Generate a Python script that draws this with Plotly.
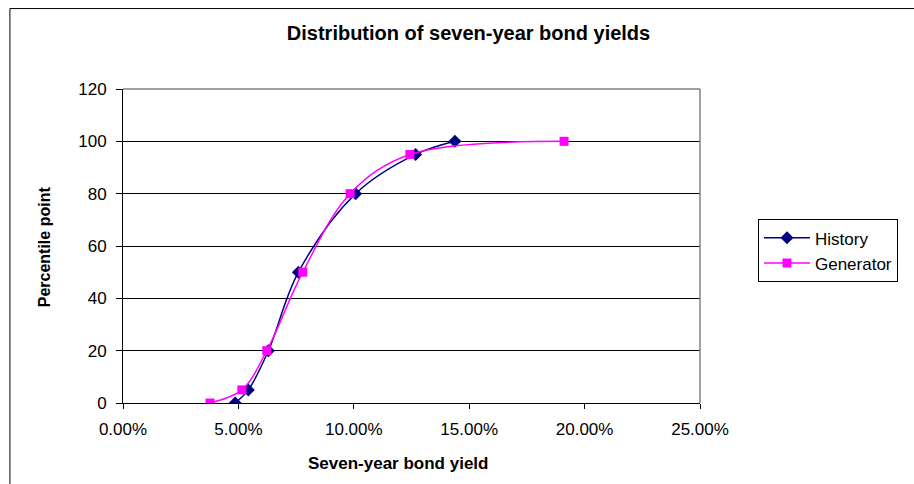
import plotly.graph_objects as go

# Percentile points of the seven-year bond yield distribution
percentiles = [0, 5, 20, 50, 80, 95, 100]
history_yield = [0.0486, 0.0543, 0.0630, 0.0760, 0.1008, 0.1268, 0.1438]
generator_yield = [0.0377, 0.0515, 0.0623, 0.0779, 0.0984, 0.1243, 0.1911]

x_ticks = [0.0, 0.05, 0.10, 0.15, 0.20, 0.25]
y_ticks = [0, 20, 40, 60, 80, 100, 120]

FONT = "Liberation Sans, Arial, sans-serif"

fig = go.Figure()
fig.add_trace(go.Scatter(
    x=history_yield, y=percentiles, name="History",
    mode="lines+markers",
    line=dict(color="#000080", width=1.5, shape="spline", smoothing=1),
    marker=dict(symbol="diamond", size=10, color="#000080"),
))
fig.add_trace(go.Scatter(
    x=generator_yield, y=percentiles, name="Generator",
    mode="lines+markers",
    line=dict(color="#FF00FF", width=1.5, shape="spline", smoothing=1),
    marker=dict(symbol="square", size=9, color="#FF00FF"),
))

fig.update_layout(
    width=914, height=484,
    margin=dict(l=123, r=214, t=89, b=81),
    paper_bgcolor="white", plot_bgcolor="white",
    font=dict(family=FONT, color="black", size=17),
    title=dict(
        text="<b>Distribution of seven-year bond yields</b>",
        x=0.5126, xref="container", xanchor="center",
        y=1 - 33 / 484, yref="container", yanchor="middle",
        font=dict(size=20, family=FONT, color="black"),
    ),
    showlegend=True,
    legend=dict(
        x=1.1005, xanchor="left", y=0.585, yanchor="top",
        bordercolor="black", borderwidth=1, bgcolor="white",
        font=dict(size=17, family=FONT, color="black"),
        itemwidth=46, tracegroupgap=0,
    ),
    xaxis=dict(
        range=[0, 0.25], tickvals=x_ticks, tickformat=".2%",
        showgrid=False, zeroline=False,
        showline=True, linecolor="black", linewidth=1,
        ticks="outside", ticklen=5, tickcolor="black",
        ticklabelstandoff=6,
        tickfont=dict(size=17, family=FONT, color="black"),
    ),
    yaxis=dict(
        range=[0, 120], tickvals=y_ticks,
        showgrid=True, gridcolor="black", gridwidth=1, zeroline=False,
        showline=True, linecolor="black", linewidth=1,
        ticks="outside", ticklen=6, tickcolor="black",
        ticklabelstandoff=6,
        tickfont=dict(size=17, family=FONT, color="black"),
    ),
    annotations=[
        dict(text="<b>Seven-year bond yield</b>", xref="paper", yref="paper",
             x=0.476, y=-0.192, xanchor="center", yanchor="middle",
             showarrow=False, font=dict(size=17, family=FONT, color="black")),
        dict(text="<b>Percentile point</b>", xref="paper", yref="paper",
             x=-0.1346, y=0.497, xanchor="center", yanchor="middle",
             textangle=-90, showarrow=False,
             font=dict(size=16, family=FONT, color="black")),
    ],
    shapes=[
        # grey top and right edges of the plot area
        dict(type="line", xref="paper", yref="paper", x0=0, x1=1, y0=1, y1=1,
             line=dict(color="#808080", width=1.5), layer="above"),
        dict(type="line", xref="paper", yref="paper", x0=1, x1=1, y0=0, y1=1,
             line=dict(color="#808080", width=1.5), layer="above"),
        # chart area border
        dict(type="rect", xref="paper", yref="paper",
             x0=-0.196, x1=1.381, y0=-0.2786, y1=1.2562,
             line=dict(color="black", width=1), fillcolor="rgba(0,0,0,0)",
             layer="above"),
    ],
)

fig.write_html("out.html")
